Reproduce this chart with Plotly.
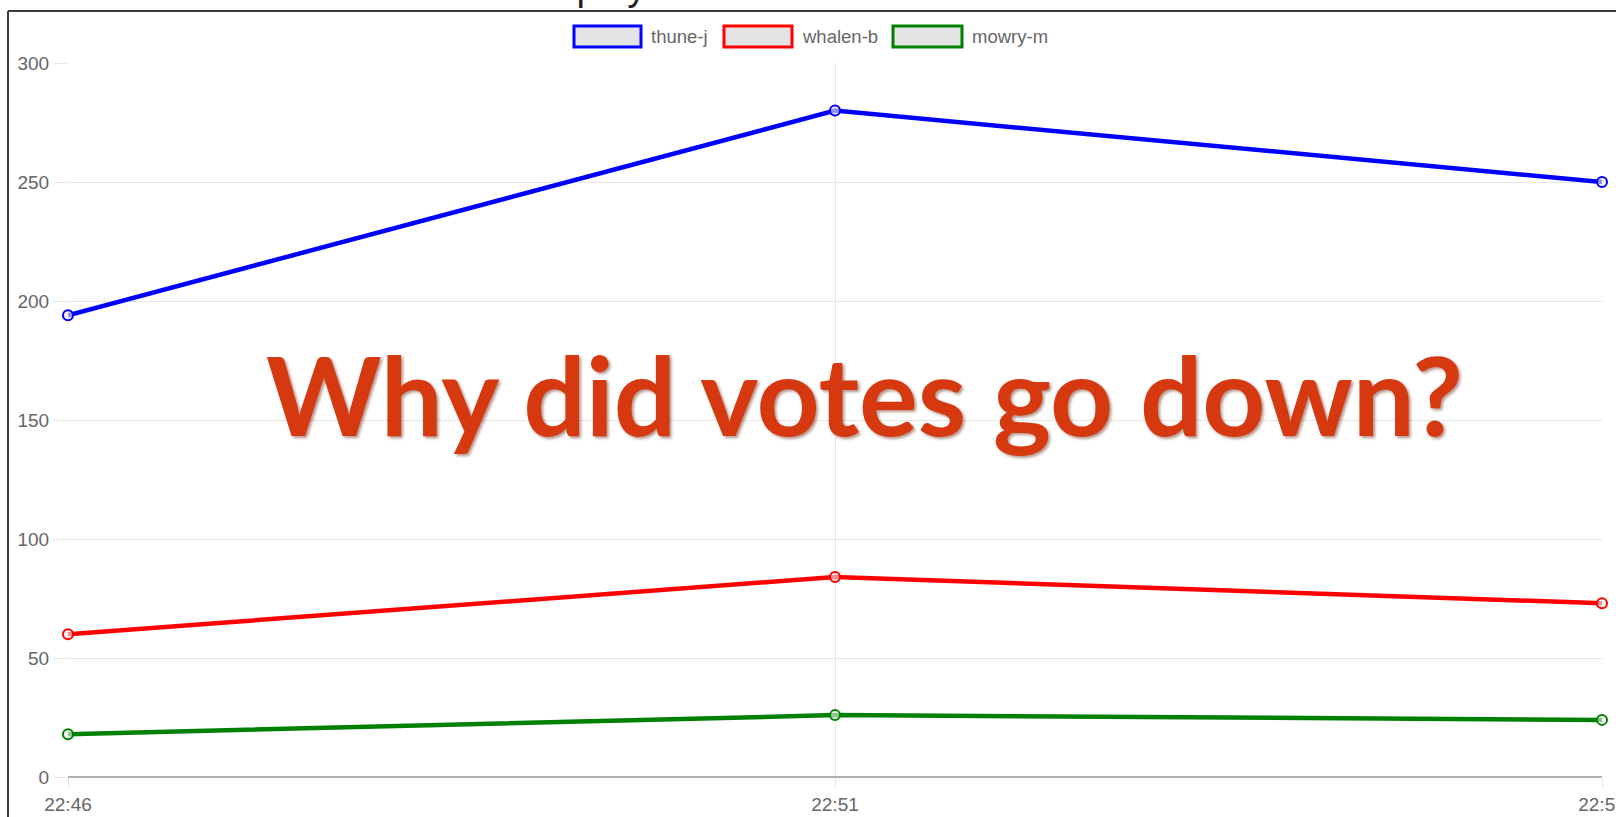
import plotly.graph_objects as go

# ---- data ----
times = ["22:46", "22:51", "22:56"]
series_names = ["thune-j", "whalen-b", "mowry-m"]
thune_j = [194, 280, 250]
whalen_b = [60, 84, 73]
mowry_m = [18, 26, 24]
series_colors = ["#0000ff", "#ff0000", "#008000"]
title_text = "Candidate Number of Votes at Displayed Time"
overlay_text = "Why did votes go down?"

W, H = 1616, 817
L, R, T, B = 68, 14, 63, 40
PW, PH = W - L - R, H - T - B


def px(x):
    return (x - L) / PW


def py(y):
    return (H - B - y) / PH


fig = go.Figure()
for name, vals, col in zip(series_names, [thune_j, whalen_b, mowry_m], series_colors):
    fig.add_trace(go.Scatter(
        x=times, y=vals, name=name, mode="lines+markers",
        line=dict(color=col, width=4.5),
        marker=dict(symbol="circle", size=10, color="rgba(240,240,240,0.6)",
                    line=dict(color=col, width=2)),
        cliponaxis=False, showlegend=False,
    ))

shapes = []
annotations = []

# custom legend (Chart.js style boxes)
legend_boxes = [(574, 641, 649), (724, 792, 800), (893, 962, 970)]
for (x0, x1, tx), name, col in zip(legend_boxes, series_names, series_colors):
    shapes.append(dict(type="rect", xref="paper", yref="paper",
                       x0=px(x0), x1=px(x1), y0=py(47), y1=py(26),
                       fillcolor="#e4e4e4", line=dict(color=col, width=3)))
    annotations.append(dict(text=name, xref="paper", yref="paper",
                            x=px(tx), y=py(37), xanchor="left", yanchor="middle",
                            showarrow=False,
                            font=dict(family="Liberation Sans, Arial", size=18.5, color="#666666")))

# outer frame (top and left border)
shapes.append(dict(type="line", xref="paper", yref="paper",
                   x0=px(8), x1=px(W + 5), y0=py(11), y1=py(11),
                   line=dict(color="#3c3c3c", width=2)))
shapes.append(dict(type="line", xref="paper", yref="paper",
                   x0=px(8), x1=px(8), y0=py(11), y1=py(H + 5),
                   line=dict(color="#3c3c3c", width=2)))

# cropped title at very top
annotations.append(dict(text=title_text, xref="paper", yref="paper",
                        x=px(0), y=py(10), xanchor="left", yanchor="bottom",
                        showarrow=False,
                        font=dict(family="Liberation Sans, Arial", size=38, color="#222222")))

# big overlay question
annotations.append(dict(text=overlay_text, xref="paper", yref="paper",
                        x=px(864), y=py(393), xanchor="center", yanchor="middle",
                        showarrow=False,
                        font=dict(family="Lato", size=110, color="#d6390f", weight="bold",
                                  shadow="2px 2px 3px rgba(90,20,0,0.45)")))

fig.update_layout(
    width=W, height=H,
    margin=dict(l=L, r=R, t=T, b=B, autoexpand=False),
    paper_bgcolor="white", plot_bgcolor="white",
    font=dict(family="Liberation Sans, Arial", size=19, color="#666666"),
    shapes=shapes, annotations=annotations,
    showlegend=False,
)
fig.update_xaxes(
    type="category", range=[0, 2], showgrid=True, gridcolor="#e6e6e6", gridwidth=1,
    ticks="outside", ticklen=10, tickcolor="#e6e6e6",
    showline=False, zeroline=False, automargin=False,
    ticklabeloverflow="allow",
    tickfont=dict(size=19, color="#666666"),
)
fig.update_yaxes(
    range=[0, 300], dtick=50, showgrid=True, gridcolor="#e6e6e6", gridwidth=1,
    ticks="outside", ticklen=14, tickcolor="#e6e6e6",
    zeroline=True, zerolinecolor="#b0b0b0", zerolinewidth=2,
    showline=False, automargin=False,
    tickfont=dict(size=19, color="#666666"),
)

fig.write_html("out.html", config={"displayModeBar": False},
               post_script="document.body.style.margin='0';")
